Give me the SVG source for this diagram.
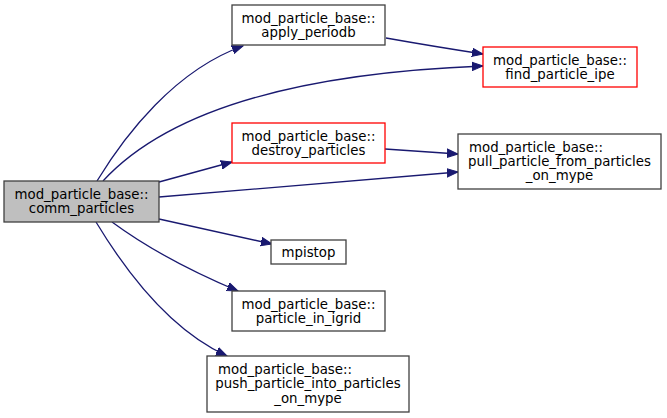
<svg xmlns="http://www.w3.org/2000/svg" width="667" height="418" viewBox="0 0 667 418">
<style>
.box{fill:#ffffff;stroke:#404040;stroke-width:1.3}
.red{fill:#ffffff;stroke:#ff0000;stroke-width:1.3}
.cur{fill:#bfbfbf;stroke:#404040;stroke-width:1.3}
text{font-family:"DejaVu Sans","Liberation Sans",sans-serif;font-size:13.33px;fill:#000000}
.c{text-anchor:middle}
.e{fill:none;stroke:#191970;stroke-width:1.3}
</style>
<defs>
<marker id="ah" markerUnits="userSpaceOnUse" markerWidth="12" markerHeight="10" viewBox="0 -5 12 10" refX="11" refY="0" orient="auto">
<path d="M0,-4.2 L11,0 L0,4.2 Z" fill="#191970" stroke="#191970" stroke-width="1"/>
</marker>
</defs>
<rect width="667" height="418" fill="#ffffff"/>
<g id="edges">
<path class="e" marker-end="url(#ah)" d="M97,181 C125,135 175,70 243,46"/>
<path class="e" marker-end="url(#ah)" d="M103,181 C150,130 250,75 483,66"/>
<path class="e" marker-end="url(#ah)" d="M386,38 C420,44 450,49 483,54"/>
<path class="e" marker-end="url(#ah)" d="M159,182 L232,162"/>
<path class="e" marker-end="url(#ah)" d="M385,149 L458,154"/>
<path class="e" marker-end="url(#ah)" d="M159,197 L458,172"/>
<path class="e" marker-end="url(#ah)" d="M159,219 L272,244"/>
<path class="e" marker-end="url(#ah)" d="M112,222 C150,250 200,275 238,291"/>
<path class="e" marker-end="url(#ah)" d="M96,222 C125,270 170,330 227,356"/>
</g>
<g id="comm_particles">
<rect class="cur" x="4" y="181" width="155" height="41"/>
<text class="c" x="81.5" y="199">mod_particle_base::</text>
<text class="c" x="81.5" y="213">comm_particles</text>
</g>
<g id="apply_periodb">
<rect class="box" x="232" y="5" width="153" height="40"/>
<text class="c" x="308.5" y="22.5">mod_particle_base::</text>
<text class="c" x="308.5" y="36.5">apply_periodb</text>
</g>
<g id="find_particle_ipe">
<rect class="red" x="483" y="47" width="154" height="40"/>
<text class="c" x="560" y="64.5">mod_particle_base::</text>
<text class="c" x="560" y="78.5">find_particle_ipe</text>
</g>
<g id="destroy_particles">
<rect class="red" x="232" y="123" width="153" height="40"/>
<text class="c" x="308.5" y="140.5">mod_particle_base::</text>
<text class="c" x="308.5" y="154.5">destroy_particles</text>
</g>
<g id="pull_particle_from_particles_on_mype">
<rect class="box" x="458" y="134" width="203" height="55"/>
<text x="469" y="152">mod_particle_base::</text>
<text class="c" x="559.5" y="166">pull_particle_from_particles</text>
<text class="c" x="559.5" y="180">_on_mype</text>
</g>
<g id="mpistop">
<rect class="box" x="271" y="240" width="75" height="24"/>
<text class="c" x="308.5" y="256.5">mpistop</text>
</g>
<g id="particle_in_igrid">
<rect class="box" x="232" y="291" width="153" height="40"/>
<text class="c" x="308.5" y="308.5">mod_particle_base::</text>
<text class="c" x="308.5" y="322.5">particle_in_igrid</text>
</g>
<g id="push_particle_into_particles_on_mype">
<rect class="box" x="207" y="356" width="202" height="56"/>
<text x="218" y="373.5">mod_particle_base::</text>
<text class="c" x="308" y="388">push_particle_into_particles</text>
<text class="c" x="308" y="402.5">_on_mype</text>
</g>
</svg>
